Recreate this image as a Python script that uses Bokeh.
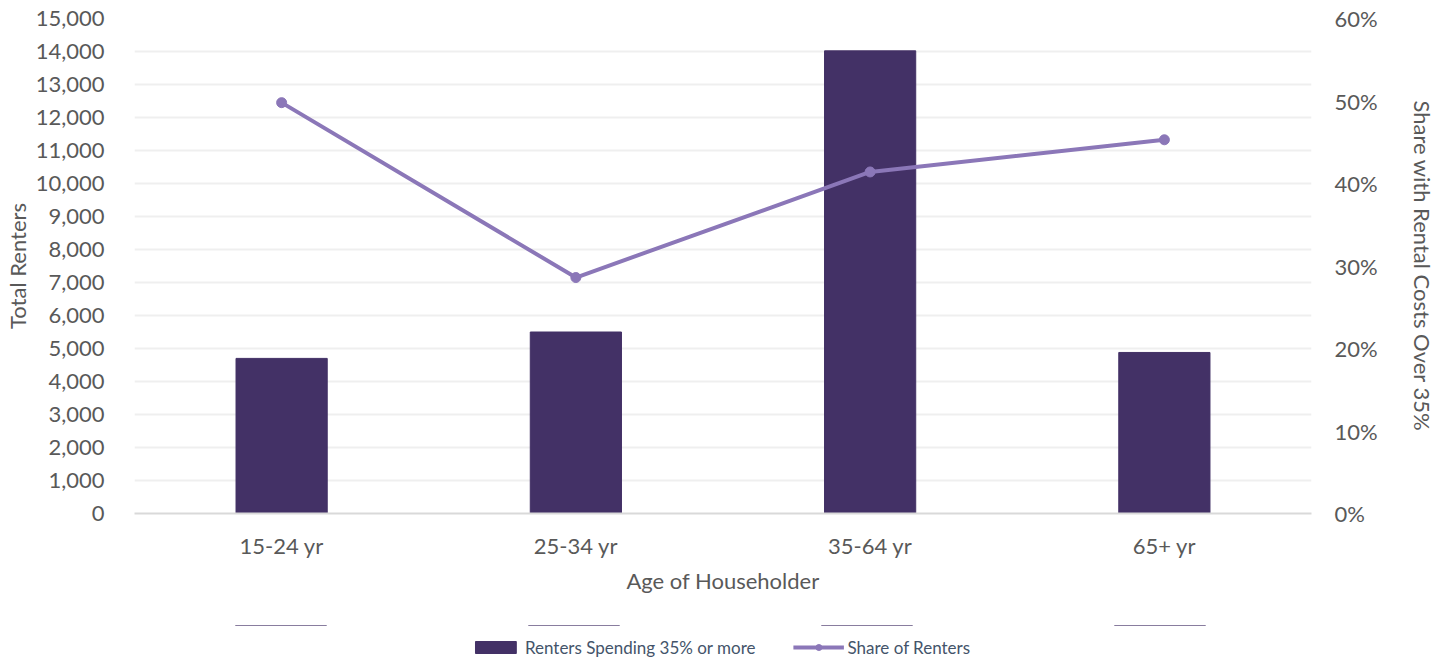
from bokeh.plotting import figure
from bokeh.models import (FactorRange, Range1d, LinearAxis, NumeralTickFormatter,
                          Legend, LegendItem, FixedTicker)
from bokeh.layouts import column
from bokeh.embed import file_html
from bokeh.resources import INLINE

categories = ["15-24 yr", "25-34 yr", "35-64 yr", "65+ yr"]
renters_spending = [4700, 5500, 14020, 4880]
share_of_renters = [0.498, 0.286, 0.414, 0.453]

FONT = "Lato"
GREY = "#595959"
BAR = "#433166"
LINE = "#8b77b8"

p = figure(x_range=FactorRange(*categories), y_range=Range1d(0, 15000),
           frame_width=1177, frame_height=495, output_backend="svg", toolbar_location=None,
           min_border_left=0, min_border_right=0, min_border_top=18,
           min_border_bottom=112)
p.outline_line_color = None
p.background_fill_color = "white"

bars = p.vbar(x=categories, top=renters_spending, width=0.31, fill_color=BAR,
              line_color=BAR)

p.extra_y_ranges = {"pct": Range1d(0, 0.6)}
line = p.line(x=categories, y=share_of_renters, y_range_name="pct",
              line_color=LINE, line_width=4)
pts = p.scatter(x=categories, y=share_of_renters, y_range_name="pct",
                size=10, fill_color=LINE, line_color=LINE)

right = LinearAxis(y_range_name="pct", ticker=FixedTicker(ticks=[0, .1, .2, .3, .4, .5, .6]),
                   formatter=NumeralTickFormatter(format="0%"),
                   axis_label="Share with Rental Costs Over 35%")
p.add_layout(right, "right")

p.yaxis[0].ticker = FixedTicker(ticks=list(range(0, 15001, 1000)))
p.yaxis[0].formatter = NumeralTickFormatter(format="0,0")
p.yaxis[0].axis_label = "Total Renters"
p.xaxis.axis_label = "Age of Householder"

for ax in p.yaxis:
    ax.axis_line_color = None
    ax.major_tick_line_color = None
    ax.minor_tick_line_color = None
    ax.major_label_text_font = FONT
    ax.major_label_text_font_size = "22px"
    ax.major_label_text_color = GREY
    ax.axis_label_text_font = FONT
    ax.axis_label_text_font_size = "22px"
    ax.axis_label_text_color = GREY
    ax.axis_label_text_font_style = "normal"
p.yaxis[0].major_label_standoff = 24
p.yaxis[0].axis_label_standoff = 2
right.major_label_standoff = 17
right.axis_label_standoff = 28

xa = p.xaxis[0]
xa.axis_line_color = "#d9d9d9"
xa.axis_line_width = 2
xa.major_tick_line_color = None
xa.minor_tick_line_color = None
xa.major_label_text_font = FONT
xa.major_label_text_font_size = "22px"
xa.major_label_text_color = GREY
xa.major_label_standoff = 12
xa.axis_label_text_font = FONT
xa.axis_label_text_font_size = "22px"
xa.axis_label_text_color = GREY
xa.axis_label_text_font_style = "normal"
xa.axis_label_standoff = 5

p.xgrid.grid_line_color = None
p.ygrid.grid_line_color = "#efefef"
p.ygrid.grid_line_width = 2

# Legend strip below the chart: same series drawn on a range where they are out of view,
# so only the legend swatches and labels show.
p2 = figure(width=1433, height=43, x_range=FactorRange(*categories), y_range=Range1d(-2, -1),
            output_backend="svg", toolbar_location=None,
            x_axis_location=None, y_axis_location=None,
            min_border_left=0, min_border_right=0, min_border_top=0, min_border_bottom=0)
p2.grid.visible = False
p2.outline_line_color = None
lbar = p2.vbar(x=categories, top=renters_spending, width=0.31, fill_color=BAR, line_color=BAR)
lline = p2.line(x=categories, y=share_of_renters, line_color=LINE, line_width=4)
lpts = p2.scatter(x=categories, y=share_of_renters, size=10, fill_color=LINE, line_color=LINE)

legend = Legend(items=[LegendItem(label="Renters Spending 35% or more", renderers=[lbar]),
                       LegendItem(label="Share of Renters", renderers=[lline, lpts])],
                orientation="horizontal", location="center",
                label_text_font=FONT, label_text_font_size="17px",
                label_text_color="#44546a", glyph_width=51, glyph_height=15,
                spacing=37, label_standoff=4, border_line_color=None,
                background_fill_alpha=0, margin=0, padding=2)
p2.add_layout(legend, "center")

open("out.html", "w").write(file_html(column(p, p2, spacing=0), INLINE))
